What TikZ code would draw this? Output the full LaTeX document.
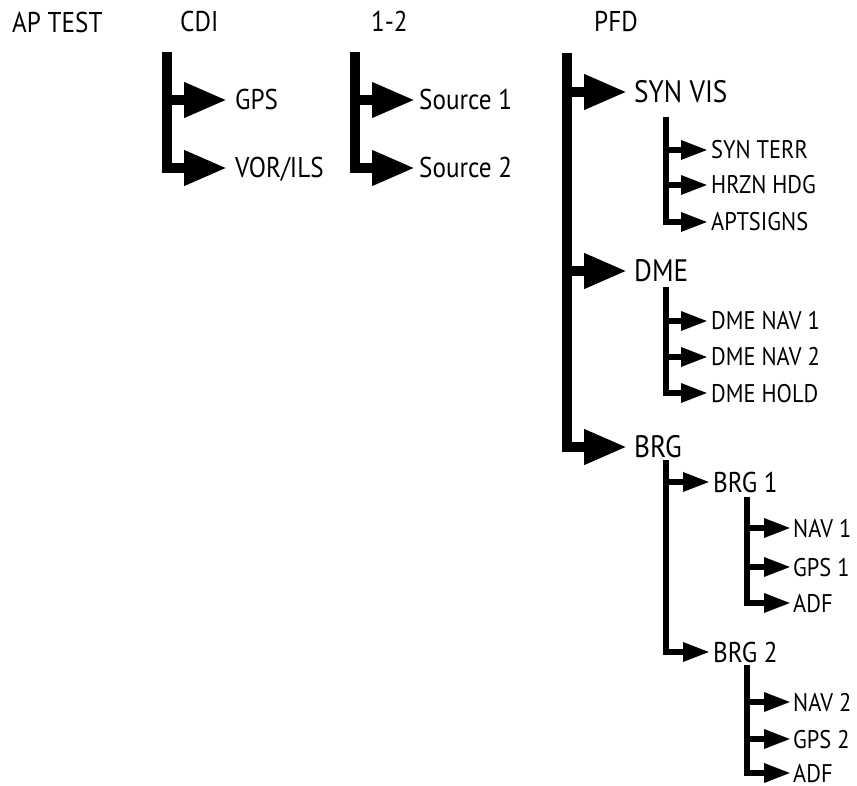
\documentclass[tikz,border=0pt]{standalone}
\usepackage{fontspec}
\setmainfont{PT Sans}[FakeStretch=0.88]
\usetikzlibrary{arrows.meta}
\begin{document}
\begin{tikzpicture}[x=1pt,y=-1pt,
 lab/.style={inner sep=0pt, anchor=west, text depth=0pt},
 hdr/.style={lab, font=\fontsize{28.6}{30}\selectfont, text height=20pt},
 bigl/.style={lab, font=\fontsize{31}{33}\selectfont, text height=21.7pt},
 midl/.style={lab, font=\fontsize{28.6}{30}\selectfont, text height=20pt},
 leaf/.style={lab, font=\fontsize{25.5}{27}\selectfont, text height=18pt},
 bigarr/.style={line width=10pt, line join=miter, -{Triangle[length=43pt,width=33pt]}},
 smallarr/.style={line width=6pt, line join=miter, -{Triangle[length=27pt,width=18pt]}},
]
\useasboundingbox (0,0) rectangle (857,786);

% headers
\node[hdr] (ap) at (12,23) {AP TEST};
\node[hdr] (cdi) at (180,22) {CDI};
\node[hdr] (ot) at (371,22) {1-2};
\node[hdr] (pfd) at (594,22) {PFD};

% CDI group
\coordinate (cdiT) at (167,52);
\node[hdr] (gps) at (235,100) {GPS};
\node[hdr] (vor) at (235,168) {VOR/ILS};
\draw[bigarr] (cdiT) |- ([xshift=-8pt]gps.west);
\draw[bigarr] (cdiT) |- ([xshift=-8pt]vor.west);

% 1-2 group
\coordinate (otT) at (355,52);
\node[hdr] (s1) at (419,100) {Source 1};
\node[hdr] (s2) at (419,168) {Source 2};
\draw[bigarr] (otT) |- ([xshift=-4pt]s1.west);
\draw[bigarr] (otT) |- ([xshift=-4pt]s2.west);

% PFD group
\coordinate (pfdT) at (567,53);
\node[bigl] (syn) at (634,92) {SYN VIS};
\node[bigl] (dme) at (634,271) {DME};
\node[bigl] (brg) at (634,447) {BRG};
\draw[bigarr] (pfdT) |- ([xshift=-7pt]syn.west);
\draw[bigarr] (pfdT) |- ([xshift=-7pt]dme.west);
\draw[bigarr] (pfdT) |- ([xshift=-7pt]brg.west);

% SYN VIS
\coordinate (synT) at (666,117);
\node[leaf] (st) at (711,150) {SYN TERR};
\node[leaf] (hh) at (711,185) {HRZN HDG};
\node[leaf] (as) at (711,222) {APTSIGNS};
\foreach \n in {st,hh,as} \draw[smallarr] (synT) |- ([xshift=-3pt]\n.west);

% DME
\coordinate (dmeT) at (666,287);
\node[leaf] (dn1) at (711,321) {DME NAV 1};
\node[leaf] (dn2) at (711,357) {DME NAV 2};
\node[leaf] (dh) at (711,393) {DME HOLD};
\foreach \n in {dn1,dn2,dh} \draw[smallarr] (dmeT) |- ([xshift=-3pt]\n.west);

% BRG
\coordinate (brgT) at (666,460);
\node[midl] (b1) at (713,482) {BRG 1};
\node[midl] (b2) at (713,652) {BRG 2};
\foreach \n in {b1,b2} \draw[smallarr] (brgT) |- ([xshift=-3pt]\n.west);

% BRG 1
\coordinate (b1T) at (747,497);
\node[leaf] (n1) at (793,528) {NAV 1};
\node[leaf] (g1) at (793,567) {GPS 1};
\node[leaf] (a1) at (793,603) {ADF};
\foreach \n in {n1,g1,a1} \draw[smallarr] (b1T) |- ([xshift=-2pt]\n.west);

% BRG 2
\coordinate (b2T) at (747,665);
\node[leaf] (n2) at (793,702) {NAV 2};
\node[leaf] (g2) at (793,739) {GPS 2};
\node[leaf] (a2) at (793,773) {ADF};
\foreach \n in {n2,g2,a2} \draw[smallarr] (b2T) |- ([xshift=-2pt]\n.west);
\end{tikzpicture}
\end{document}
